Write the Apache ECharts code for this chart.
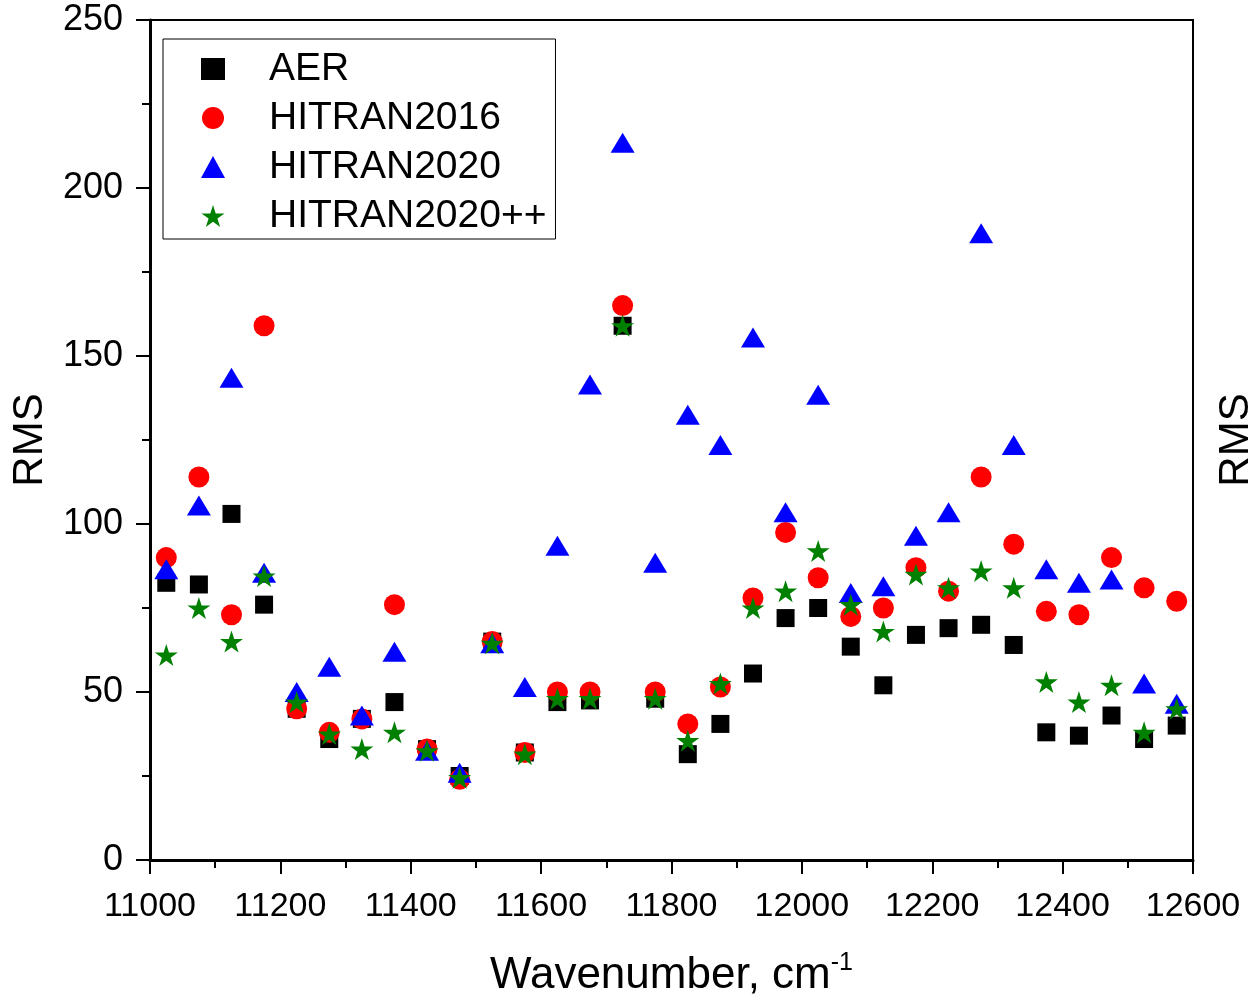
<!DOCTYPE html>
<html>
<head>
<meta charset="utf-8">
<script src="https://cdn.jsdelivr.net/npm/echarts@6/dist/echarts.min.js"></script>
<style>
  html, body { margin: 0; padding: 0; background: #fff; }
  #chart { width: 1248px; height: 997px; }
</style>
</head>
<body>
<div id="chart"></div>
<script>
// Band centres, cm^-1
const wavenumber = [11025, 11075, 11125, 11175, 11225, 11275, 11325, 11375,
  11425, 11475, 11525, 11575, 11625, 11675, 11725, 11775,
  11825, 11875, 11925, 11975, 12025, 12075, 12125, 12175,
  12225, 12275, 12325, 12375, 12425, 12475, 12525, 12575];

// RMS deviation per line list
const aer = [82.5, 82, 103, 76, 45, 36, 42, 47, 33, 25, 65, 32, 47, 47.5, 159, 48,
  31.5, 40.5, 55.5, 72, 75, 63.5, 52, 67, 69, 70, 64, 38, 37, 43, 36, 40];
const hitran2016 = [90, 114, 73, 159, 45, 38, 42, 76, 33, 24, 65, 32, 50, 50, 165, 50,
  40.5, 51.5, 78, 97.5, 84, 72.5, 75, 87, 80, 114, 94, 74, 73, 90, 81, 77];
const hitran2020 = [86.5, 105.5, 143.5, 85.5, 50, 57.5, 43, 62, 32.5, 26, 64.5, 51.5, 93.5, 141.5, 213.5, 88.5,
  132.5, 123.5, 155.5, 103.5, 138.5, 79.5, 81.5, 96.5, 103.5, 186.5, 123.5, 86.5, 82.5, 83.5, 52.5, 46.5];
const hitran2020pp = [61, 75, 65, 84.5, 47, 37.5, 33, 38, 32.5, 24.5, 64.5, 31.5, 48, 48, 159, 48,
  35.5, 52.5, 75, 80, 92, 76, 68, 85, 81, 86, 81, 53, 47, 52, 38, 45];

const FONT = 'Liberation Sans, Arial, sans-serif';
const STAR = 'path://M100,0L122.45,69.1L195.1,69.1L136.33,111.8L158.78,180.9L100,138.2L41.22,180.9L63.67,111.8L4.9,69.1L77.55,69.1Z';

function pairs(ys) {
  return wavenumber.map((x, i) => [x, ys[i]]);
}

function scatter(name, ys, symbol, size, color) {
  return {
    name: name,
    type: 'scatter',
    data: pairs(ys),
    symbol: symbol,
    symbolSize: size,
    itemStyle: { color: color, opacity: 1 },
    emphasis: { disabled: true },
    animation: false
  };
}

const chart = echarts.init(document.getElementById('chart'), null, { renderer: 'canvas' });

chart.setOption({
  backgroundColor: '#fff',
  animation: false,
  grid: {
    left: 150, right: 55, top: 20, bottom: 137,
    containLabel: false,
    outerBoundsMode: 'none',
    show: true, borderColor: '#000', borderWidth: 2, backgroundColor: 'transparent'
  },
  legend: {
    orient: 'vertical',
    left: 163, top: 39,
    padding: [10, 9, 3, 38],
    itemGap: 9,
    itemWidth: 24, itemHeight: 22,
    borderColor: '#000', borderWidth: 1,
    backgroundColor: '#fff',
    textStyle: { fontFamily: FONT, fontSize: 39, color: '#000', padding: [0, 0, 0, 39], lineHeight: 40 },
    data: ['AER', 'HITRAN2016', 'HITRAN2020', 'HITRAN2020++']
  },
  xAxis: {
    type: 'value',
    min: 11000, max: 12600, interval: 200,
    name: 'Wavenumber, cm{sup|-1}',
    nameLocation: 'middle',
    nameGap: 91,
    nameTextStyle: {
      fontFamily: FONT, fontSize: 44, color: '#000', lineHeight: 50,
      rich: { sup: { fontFamily: FONT, fontSize: 25, color: '#000', verticalAlign: 'top', lineHeight: 27, padding: [0, 0, 23, 0] } }
    },
    axisLine: { show: true, onZero: false, lineStyle: { color: '#000', width: 3 } },
    axisTick: { show: true, inside: false, length: 14, lineStyle: { color: '#000', width: 2 } },
    minorTick: { show: true, splitNumber: 2, length: 8, lineStyle: { color: '#000', width: 2 } },
    axisLabel: { fontFamily: FONT, fontSize: 34, color: '#000', margin: 30, formatter: v => String(v) },
    splitLine: { show: false }
  },
  yAxis: [{
    type: 'value',
    min: 0, max: 250, interval: 50,
    name: 'RMS',
    nameLocation: 'middle',
    nameGap: 99,
    nameRotate: 90,
    nameTextStyle: { fontFamily: FONT, fontSize: 42, color: '#000' },
    axisLine: { show: true, onZero: false, lineStyle: { color: '#000', width: 3 } },
    axisTick: { show: true, inside: false, length: 14, lineStyle: { color: '#000', width: 2 } },
    minorTick: { show: true, splitNumber: 2, length: 8, lineStyle: { color: '#000', width: 2 } },
    axisLabel: { fontFamily: FONT, fontSize: 36, color: '#000', margin: 27, formatter: v => String(v) },
    splitLine: { show: false }
  }, {
    type: 'value',
    position: 'right',
    min: 0, max: 250, interval: 50,
    name: 'RMS',
    nameLocation: 'middle',
    nameGap: 22,
    nameRotate: 90,
    nameTextStyle: { fontFamily: FONT, fontSize: 42, color: '#000' },
    axisLine: { show: false },
    axisTick: { show: false },
    axisLabel: { show: false },
    splitLine: { show: false }
  }],
  series: [
    scatter('AER', aer, 'rect', 18, '#000000'),
    scatter('HITRAN2016', hitran2016, 'circle', 21, '#ff0000'),
    scatter('HITRAN2020', hitran2020, 'triangle', [24, 20], '#0000ff'),
    scatter('HITRAN2020++', hitran2020pp, STAR, [23, 22], '#008000')
  ]
});
</script>
</body>
</html>
